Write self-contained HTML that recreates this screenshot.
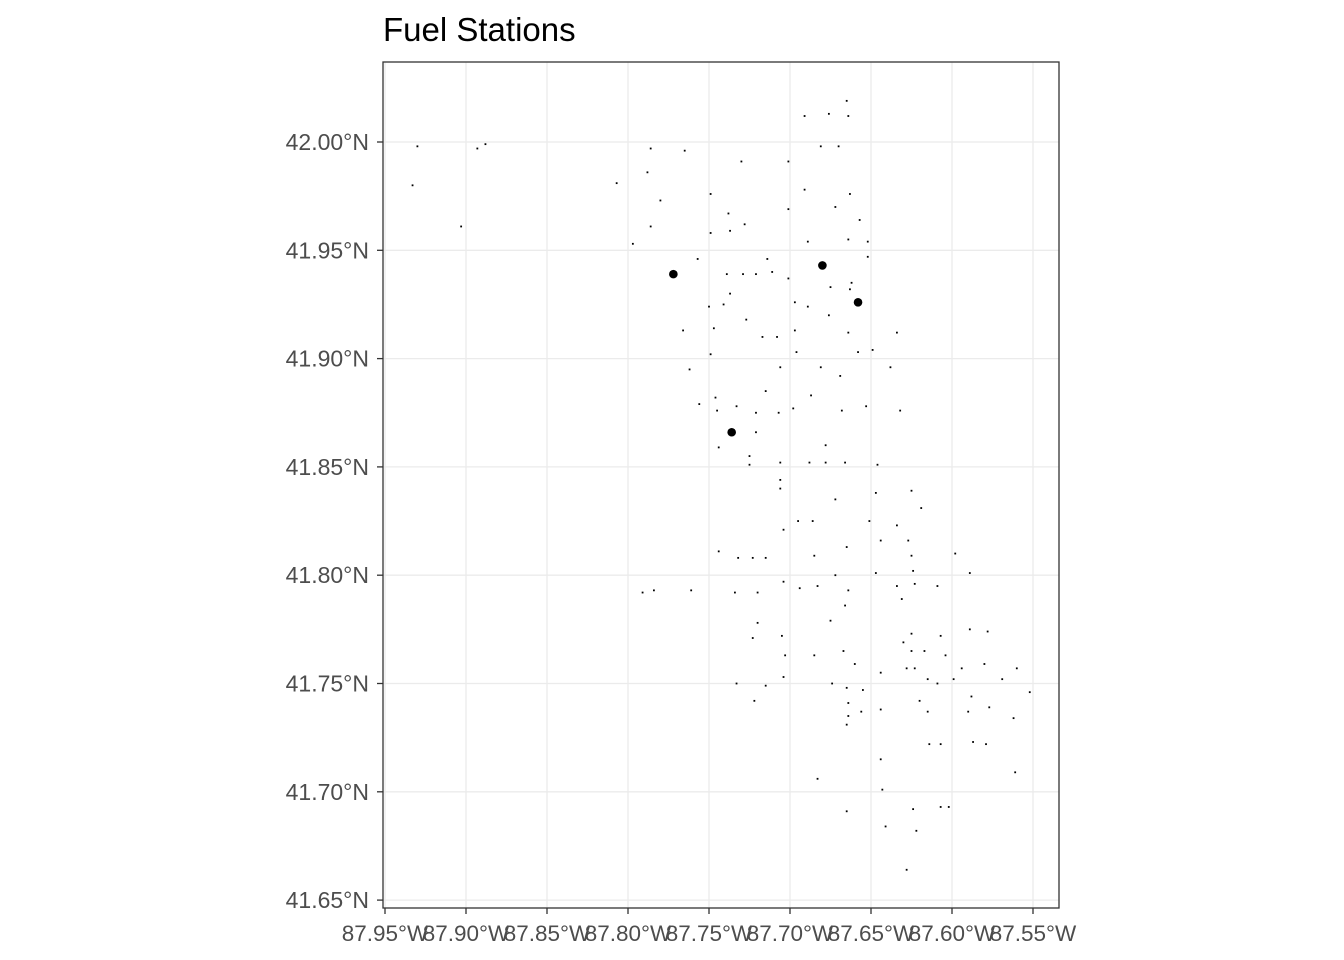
<!DOCTYPE html>
<html><head><meta charset="utf-8"><style>
html,body{margin:0;padding:0;background:#fff;}
svg{display:block;font-family:"Liberation Sans",Arial,sans-serif;}
</style></head><body>
<svg id="chart" width="1344" height="960" viewBox="0 0 1344 960" xmlns="http://www.w3.org/2000/svg">
<rect width="1344" height="960" fill="#fff"/>
<text x="383" y="41" font-size="33" fill="#000">Fuel Stations</text>
<g id="grid"></g><g id="points"></g><g id="axes"></g>
<rect x="383" y="62" width="676" height="846" fill="none" stroke="#333" stroke-width="1.3"/>
</svg>
<script>
const xTicks=[-87.95,-87.90,-87.85,-87.80,-87.75,-87.70,-87.65,-87.60,-87.55];
const xTickLabels=["87.95°W","87.90°W","87.85°W","87.80°W","87.75°W","87.70°W","87.65°W","87.60°W","87.55°W"];
const yTicks=[42.00,41.95,41.90,41.85,41.80,41.75,41.70,41.65];
const yTickLabels=["42.00°N","41.95°N","41.90°N","41.85°N","41.80°N","41.75°N","41.70°N","41.65°N"];
const bigLon=[-87.772,-87.680,-87.658,-87.736];
const bigLat=[41.939,41.943,41.926,41.866];
const lon=[-87.930,-87.933,-87.903,-87.893,-87.888,-87.807,-87.786,-87.765,-87.788,-87.780,-87.797,-87.786,-87.757,-87.749,-87.738,-87.730,-87.728,-87.749,-87.701,-87.691,-87.681,-87.676,-87.665,-87.664,-87.670,-87.663,-87.672,-87.691,-87.701,-87.689,-87.664,-87.652,-87.652,-87.657,-87.662,-87.675,-87.676,-87.663,-87.721,-87.711,-87.701,-87.697,-87.689,-87.714,-87.737,-87.739,-87.737,-87.750,-87.741,-87.729,-87.727,-87.717,-87.708,-87.697,-87.664,-87.658,-87.649,-87.634,-87.638,-87.632,-87.653,-87.669,-87.668,-87.681,-87.687,-87.698,-87.696,-87.706,-87.707,-87.715,-87.721,-87.733,-87.745,-87.756,-87.746,-87.749,-87.762,-87.766,-87.747,-87.725,-87.725,-87.721,-87.706,-87.706,-87.706,-87.688,-87.678,-87.678,-87.666,-87.672,-87.695,-87.686,-87.704,-87.646,-87.647,-87.625,-87.619,-87.651,-87.634,-87.644,-87.627,-87.625,-87.624,-87.665,-87.672,-87.685,-87.683,-87.664,-87.666,-87.675,-87.704,-87.694,-87.744,-87.732,-87.723,-87.715,-87.734,-87.720,-87.761,-87.784,-87.791,-87.647,-87.634,-87.631,-87.623,-87.609,-87.598,-87.589,-87.589,-87.578,-87.625,-87.630,-87.625,-87.607,-87.617,-87.604,-87.594,-87.580,-87.560,-87.569,-87.628,-87.623,-87.615,-87.609,-87.620,-87.615,-87.590,-87.588,-87.577,-87.562,-87.552,-87.599,-87.667,-87.660,-87.685,-87.703,-87.705,-87.723,-87.720,-87.733,-87.704,-87.674,-87.665,-87.655,-87.664,-87.664,-87.656,-87.665,-87.644,-87.644,-87.644,-87.643,-87.641,-87.624,-87.622,-87.628,-87.607,-87.602,-87.614,-87.607,-87.587,-87.579,-87.561,-87.683,-87.665,-87.722,-87.715,-87.744];
const lat=[41.998,41.980,41.961,41.997,41.999,41.981,41.997,41.996,41.986,41.973,41.953,41.961,41.946,41.958,41.967,41.991,41.962,41.976,41.991,42.012,41.998,42.013,42.019,42.012,41.998,41.976,41.970,41.978,41.969,41.954,41.955,41.954,41.947,41.964,41.935,41.933,41.920,41.932,41.939,41.940,41.937,41.926,41.924,41.946,41.959,41.939,41.930,41.924,41.925,41.939,41.918,41.910,41.910,41.913,41.912,41.903,41.904,41.912,41.896,41.876,41.878,41.892,41.876,41.896,41.883,41.877,41.903,41.896,41.875,41.885,41.875,41.878,41.876,41.879,41.882,41.902,41.895,41.913,41.914,41.855,41.851,41.866,41.852,41.844,41.840,41.852,41.852,41.860,41.852,41.835,41.825,41.825,41.821,41.851,41.838,41.839,41.831,41.825,41.823,41.816,41.816,41.809,41.802,41.813,41.800,41.809,41.795,41.793,41.786,41.779,41.797,41.794,41.811,41.808,41.808,41.808,41.792,41.792,41.793,41.793,41.792,41.801,41.795,41.789,41.796,41.795,41.810,41.801,41.775,41.774,41.773,41.769,41.765,41.772,41.765,41.763,41.757,41.759,41.757,41.752,41.757,41.757,41.752,41.750,41.742,41.737,41.737,41.744,41.739,41.734,41.746,41.752,41.765,41.759,41.763,41.763,41.772,41.771,41.778,41.750,41.753,41.750,41.748,41.747,41.741,41.735,41.737,41.731,41.738,41.755,41.715,41.701,41.684,41.692,41.682,41.664,41.693,41.693,41.722,41.722,41.723,41.722,41.709,41.706,41.691,41.742,41.749,41.859];

const NS="http://www.w3.org/2000/svg";
const X0=385,PX_PER_DEG_X=1620, Y0=142, PX_PER_DEG_Y=2166;
function xs(v){return X0+(v-(-87.95))*PX_PER_DEG_X;}
function ys(v){return Y0+(42.0-v)*PX_PER_DEG_Y;}
function mk(tag,attrs,parent){const e=document.createElementNS(NS,tag);for(const k in attrs)e.setAttribute(k,attrs[k]);parent.appendChild(e);return e;}
const grid=document.getElementById('grid'),axes=document.getElementById('axes'),pts=document.getElementById('points');
xTicks.forEach((v,i)=>{
  const x=xs(v);
  const g=mk('line',{x1:x,x2:x,y1:62,y2:908,stroke:'#ebebeb','stroke-width':1.3},grid);
  
  
  const t=mk('line',{x1:x,x2:x,y1:908,y2:914,stroke:'#333','stroke-width':1.3},axes);
  
  
  const l=mk('text',{x:x,y:941,'font-size':22.5,fill:'#4d4d4d','text-anchor':'middle'},axes);
  l.textContent=xTickLabels[i];
  
  
});
yTicks.forEach((v,i)=>{
  const y=ys(v);
  const g=mk('line',{x1:383,x2:1059,y1:y,y2:y,stroke:'#ebebeb','stroke-width':1.3},grid);
  
  
  const t=mk('line',{x1:377,x2:383,y1:y,y2:y,stroke:'#333','stroke-width':1.3},axes);
  
  
  const l=mk('text',{x:369,y:y+8,'font-size':23,fill:'#4d4d4d','text-anchor':'end'},axes);
  l.textContent=yTickLabels[i];
  
  
});
lon.forEach((v,i)=>{
  const c=mk('rect',{x:xs(v)-0.9,y:ys(lat[i])-0.9,width:1.8,height:1.8,fill:'#000'},pts);
  
  
});
bigLon.forEach((v,i)=>{
  const c=mk('circle',{cx:xs(v),cy:ys(bigLat[i]),r:4.3,fill:'#000'},pts);
  
  
});
</script>
</body></html>
